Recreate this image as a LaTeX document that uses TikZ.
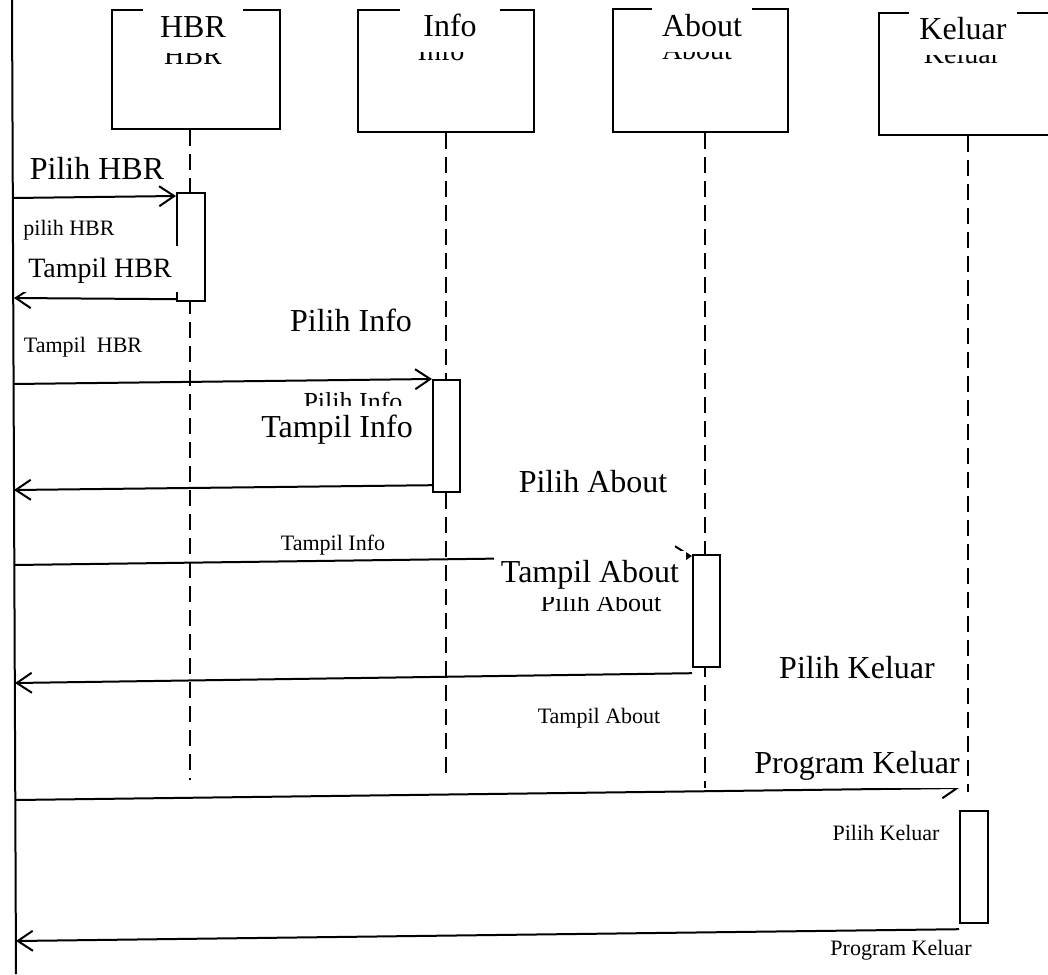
\documentclass[tikz,border=0pt]{standalone}
\usepackage{fontspec}
\setmainfont{Liberation Serif}
\usetikzlibrary{arrows.meta}
\tikzset{
	obj/.style={draw, line width=1.1pt, anchor=north west, minimum height=61pt, inner sep=0pt},
	act/.style={draw, fill=white, line width=1.1pt, anchor=north west, minimum width=13.5pt, minimum height=56pt, inner sep=0pt},
	life/.style={line width=1pt, dash pattern=on 8pt off 4pt},
	msg/.style={line width=1pt, -{Straight Barb[length=7.5pt, width=10pt, line width=1pt]}},
	big/.style={anchor=base, font=\fontsize{16}{19}\selectfont, inner sep=0pt},
	cover/.style={big, fill=white, text height=11pt, text depth=3pt, inner xsep=3.5pt, inner ysep=4.5pt},
	small/.style={anchor=base, font=\fontsize{11}{13}\selectfont, inner sep=0pt},
	ghost/.style={anchor=base, font=\fontsize{14}{16}\selectfont, inner sep=0pt},
}
\begin{document}
\begin{tikzpicture}[x=0.5pt, y=-0.5pt]
	\useasboundingbox (0,0) rectangle (1048,974);
	% objects
	\node[obj, minimum width=84pt, minimum height=59.5pt] (hbr) at (111,9) {};
	\node[obj, minimum width=88pt] (info) at (357,9) {};
	\node[obj, minimum width=87.5pt, minimum height=61.5pt] (about) at (612,8) {};
	\node[obj, minimum width=92pt] (keluar) at (878,12) {};
	% lifelines
	\coordinate (usertop) at (12,0);
	\coordinate (userbot) at (16,974);
	\draw[line width=1pt] (usertop) -- (userbot);
	\foreach \n/\x/\y in {hbr/190/780, info/446/780, about/705/788, keluar/968/792}{\coordinate (\n-end) at (\x,\y); \draw[life] (\n.south -| \n-end) -- (\n-end);};
	% messages
	\coordinate (u1) at (13,198);
	\coordinate (u2) at (14,298);
	\coordinate (u3) at (13,384);
	\coordinate (u4) at (14,490);
	\coordinate (u5) at (14,565);
	\coordinate (u6) at (15,683);
	\coordinate (u7) at (15,800);
	\coordinate (u8) at (16,941);
	\node[act, minimum width=14pt, minimum height=54pt] (hbract) at (176,192) {};
	\node[act] (infoact) at (432,379) {};
	\node[act] (aboutact) at (692,554) {};
	\node[act, minimum width=14pt] (keluaract) at (959,810) {};
	\draw[msg] (u1) -- ([yshift=-2pt]hbract.north west);
	\draw[msg] ([yshift=1.5pt]hbract.south west) -- (u2);
	\draw[msg] (u3) -- (infoact.north west);
	\draw[msg] ([yshift=4pt]infoact.south west) -- (u4);
	\draw[msg] (u5) -- ([yshift=-1pt]aboutact.north west);
	\draw[msg] ([yshift=-2.5pt]aboutact.south west) -- (u6);
	\draw[msg] (u7) -- ([yshift=11pt]keluaract.north west);
	\draw[msg] ([yshift=-2.5pt]keluaract.south west) -- (u8);
	% old labels
	\node[ghost] (g1) at (193,65) {HBR};
	\node[ghost] (g2) at (441,61) {Info};
	\node[ghost] (g3) at (697,60) {About};
	\node[ghost] (g4) at (962,64) {Keluar};
	\node[ghost, font=\fontsize{13}{15}\selectfont] (g5) at (353,410) {Pilih Info};
	\node[ghost, font=\fontsize{13}{15}\selectfont] (g6) at (601,611) {Pilih About};
	\node[small] (s1) at (69,235) {pilih HBR};
	\node[small] (s2) at (83,352) {Tampil\ \ HBR};
	\node[small] (s3) at (333,550) {Tampil Info};
	\node[small] (s4) at (599,723) {Tampil About};
	\node[small] (s5) at (886,840) {Pilih Keluar};
	\node[small] (s6) at (901,955) {Program Keluar};
	% new labels
	\node[cover, minimum width=50pt] (l1) at (193,38) {HBR};
	\node[cover, minimum width=50pt] (l2) at (450,37) {Info};
	\node[cover, minimum width=50pt] (l3) at (702,37) {About};
	\node[cover, minimum width=54pt] (l4) at (963,40) {Keluar};
	\node[big] (m1) at (97,179) {Pilih HBR};
	\node[cover, font=\fontsize{14}{17}\selectfont] (m2) at (100,277) {Tampil HBR};
	\node[big] (m3) at (351,331) {Pilih Info};
	\node[cover] (m4) at (337,437) {Tampil Info};
	\node[big] (m5) at (593,492) {Pilih About};
	\node[cover] (m6) at (590,582) {Tampil About};
	\node[big] (m7) at (857,678) {Pilih Keluar};
	\node[cover] (m8) at (857,773) {Program Keluar};
\end{tikzpicture}
\end{document}
